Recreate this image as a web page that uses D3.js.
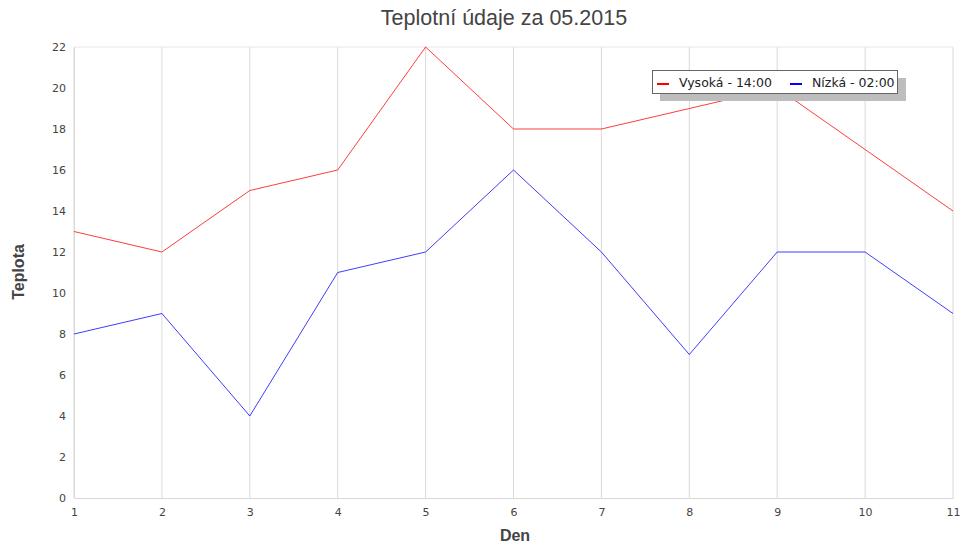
<html>
<head>
<meta charset="utf-8">
<style>
  body { margin: 0; background: #fff; }
  text { font-family: "DejaVu Sans", sans-serif; }
</style>
</head>
<body>
<div id="vis"></div>
<script src="https://d3js.org/d3.v7.min.js"></script>
<script>
// data
const days = [1, 2, 3, 4, 5, 6, 7, 8, 9, 10, 11]
const high = [13, 12, 15, 16, 22, 18, 18, 19, 20, 17, 14]
const low = [8, 9, 4, 11, 12, 16, 12, 7, 12, 12, 9]
const yTicks = [0, 2, 4, 6, 8, 10, 12, 14, 16, 18, 20, 22]
const seriesNames = ['Vysoká - 14:00', 'Nízká - 02:00']
const seriesColors = ['#ff0000', '#0000ff']

const W = 962, H = 544
const plot = { left: 74, right: 953, top: 47, bottom: 498 }

const svg = d3.select('#vis').append('svg')
  .attr('width', W).attr('height', H)

const x = d3.scaleLinear().domain([1, 11]).range([plot.left, plot.right])
const y = d3.scaleLinear().domain([0, 22]).range([plot.bottom, plot.top])

// vertical grid
svg.append('g')
  .selectAll('line')
  .data(days)
  .join('line')
  .attr('x1', d => x(d)).attr('x2', d => x(d))
  .attr('y1', plot.top).attr('y2', plot.bottom)
  .attr('stroke', '#d9d9d9')

// frame lines
svg.append('line')
  .attr('x1', plot.left).attr('x2', plot.right)
  .attr('y1', plot.top).attr('y2', plot.top)
  .attr('stroke', '#e6e6e6')

// axes
const xAxis = svg.append('g')
  .attr('transform', `translate(0,${plot.bottom})`)
  .call(d3.axisBottom(x).tickValues(days).tickFormat(d3.format('d')).tickSize(0).tickPadding(10))
xAxis.select('.domain').attr('stroke', '#d9d9d9')

const yAxis = svg.append('g')
  .attr('transform', `translate(${plot.left},0)`)
  .call(d3.axisLeft(y).tickValues(yTicks).tickSize(0).tickPadding(8))
yAxis.select('.domain').attr('stroke', '#d9d9d9')

svg.selectAll('.tick text')
  .attr('fill', '#444')
  .style('font-size', '11px')
  .style('font-family', '"DejaVu Sans", sans-serif')

// lines
const line = d3.line()
  .x((d, i) => x(days[i]))
  .y(d => y(d))

;[high, low].forEach((s, k) => {
  svg.append('path')
    .datum(s)
    .attr('d', line)
    .attr('fill', 'none')
    .attr('stroke', seriesColors[k])
    .attr('stroke-width', 0.9)
    .attr('stroke-opacity', 0.85)
})

// title
svg.append('text')
  .attr('x', 504).attr('y', 25)
  .attr('text-anchor', 'middle')
  .style('font-family', '"Liberation Sans", Arial, sans-serif')
  .style('font-size', '21.5px')
  .attr('fill', '#444')
  .text('Teplotní údaje za 05.2015')

// axis titles
svg.append('text')
  .attr('x', 515).attr('y', 541)
  .attr('text-anchor', 'middle')
  .style('font-size', '16px')
  .style('font-weight', 'bold')
  .style('font-family', '"Liberation Sans", Arial, sans-serif')
  .attr('fill', '#444')
  .text('Den')

svg.append('text')
  .attr('transform', 'translate(24,272) rotate(-90)')
  .attr('text-anchor', 'middle')
  .style('font-size', '16px')
  .style('font-weight', 'bold')
  .style('font-family', '"Liberation Sans", Arial, sans-serif')
  .attr('fill', '#444')
  .text('Teplota')

// legend
const lg = svg.append('g').attr('transform', 'translate(652,70)')
lg.append('rect')
  .attr('x', 8).attr('y', 8).attr('width', 246).attr('height', 23)
  .attr('fill', '#bdbdbd')
lg.append('rect')
  .attr('x', 0.5).attr('y', 0.5).attr('width', 245).attr('height', 23)
  .attr('fill', '#fff').attr('stroke', '#666')
const legendX = [5, 138]
seriesNames.forEach((n, i) => {
  lg.append('line')
    .attr('x1', legendX[i]).attr('x2', legendX[i] + 12)
    .attr('y1', 14).attr('y2', 14)
    .attr('stroke', seriesColors[i]).attr('stroke-width', 2)
  lg.append('text')
    .attr('x', legendX[i] + 22).attr('y', 17)
    .style('font-size', '12.5px')
    .attr('fill', '#222')
    .text(n)
})
</script>
</body>
</html>
